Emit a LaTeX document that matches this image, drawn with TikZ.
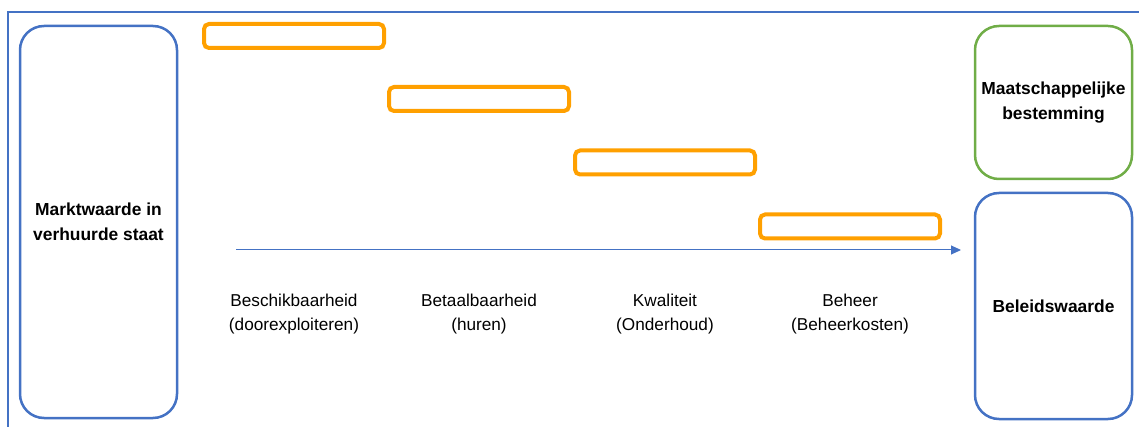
\documentclass[tikz,border=0pt]{standalone}
\usepackage{fontspec}
\setmainfont{Liberation Sans}
\usetikzlibrary{arrows.meta}
\definecolor{myblue}{HTML}{4472C4}
\definecolor{myorange}{HTML}{FFA000}
\definecolor{mygreen}{HTML}{70AD47}
\begin{document}
\begin{tikzpicture}[x=1pt,y=-1pt,
  bigbox/.style={draw=myblue,line width=2.5pt,rounded corners=24pt,inner sep=0pt,
    minimum width=157pt,align=center,font=\fontsize{17.4}{25}\selectfont\bfseries},
  greenbox/.style={bigbox,draw=mygreen},
  barbox/.style={draw=myorange,line width=4pt,rounded corners=5pt,inner sep=0pt,
    minimum width=180pt,minimum height=24pt},
  lbl/.style={align=center,font=\fontsize{17.2}{24}\selectfont,inner sep=0pt}]
\useasboundingbox (0,0) rectangle (1139,427);
% frame
\draw[myblue,line width=1.5pt] (1139,12) -- (8,12) -- (8,427);
% main boxes
\node[bigbox,minimum height=392pt] (mw) at (98.5,222) {Marktwaarde in\\verhuurde staat};
\node[greenbox,minimum height=153pt] (mb) at (1053.5,102.5) {Maatschappelijke\\bestemming};
\node[bigbox,minimum height=226pt] (bw) at (1053.5,306) {Beleidswaarde};
% orange bars
\node[barbox] (b1) at (294,36) {};
\node[barbox] (b2) at (479,99) {};
\node[barbox] (b3) at (665,162.5) {};
\node[barbox] (b4) at (850,226.5) {};
% arrow
\coordinate (as) at (236,250);
\coordinate (ae) at (961,250);
\draw[myblue,line width=1pt,-{Triangle[length=10pt,width=9pt]}] (as) -- (ae);
% labels
\node[lbl] (l1) at (294,314) {Beschikbaarheid\\(doorexploiteren)};
\node[lbl] (l2) at (479,314) {Betaalbaarheid\\(huren)};
\node[lbl] (l3) at (665,314) {Kwaliteit\\(Onderhoud)};
\node[lbl] (l4) at (850,314) {Beheer\\(Beheerkosten)};
\end{tikzpicture}
\end{document}
